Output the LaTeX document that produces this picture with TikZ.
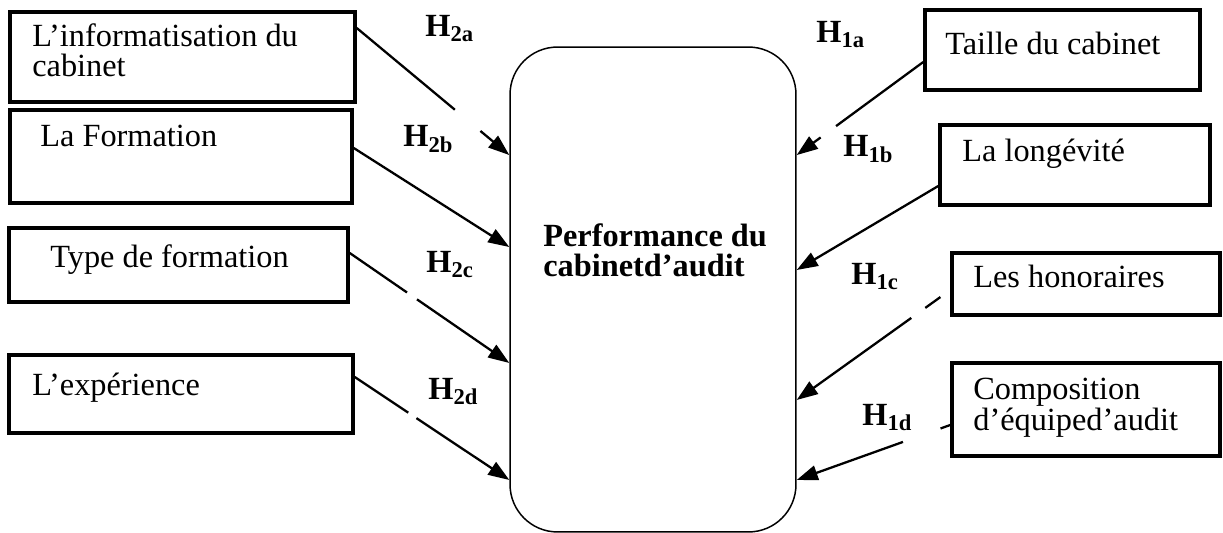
\documentclass[tikz,border=0pt]{standalone}
\usepackage{fontspec}
\setmainfont{Liberation Serif}
\usetikzlibrary{arrows.meta}
\tikzset{
  box/.style={draw,line width=2pt,inner sep=0pt},
  txt/.style={anchor=base west,inner sep=0pt,align=left,font=\fontsize{18.4}{17.6}\selectfont},
  hyp/.style={anchor=base west,inner sep=0pt,font=\fontsize{18.4}{17.6}\selectfont\bfseries},
  link/.style={line width=1.3pt,-{Triangle[length=12pt,width=8.5pt]}},
  broken/.style 2 args={dash pattern=on #1 off #2 on 400pt}
}
\begin{document}
\begin{tikzpicture}[x=0.02cm,y=-0.02cm]
  \useasboundingbox (0,0) rectangle (1223,533);
  % left boxes
  \node[box,minimum width=6.9cm,minimum height=1.8cm] (info) at (182.5,57) {};
  \node[box,minimum width=6.84cm,minimum height=1.86cm] (form) at (181,156.5) {};
  \node[box,minimum width=6.78cm,minimum height=1.48cm] (type) at (178.5,265) {};
  \node[box,minimum width=6.88cm,minimum height=1.56cm] (expe) at (181,394) {};
  % right boxes
  \node[box,minimum width=5.5cm,minimum height=1.6cm] (taille) at (1062.5,50) {};
  \node[box,minimum width=5.4cm,minimum height=1.6cm] (longe) at (1075,165) {};
  \node[box,minimum width=5.36cm,minimum height=1.24cm] (hono) at (1086,284) {};
  \node[box,minimum width=5.36cm,minimum height=1.86cm] (compo) at (1086,409.5) {};
  % centre
  \node[draw,line width=0.85pt,rounded corners=0.95cm,inner sep=0pt,minimum width=5.72cm,minimum height=9.7cm] (perf) at (653,289.5) {};
  \node[txt,font=\fontsize{18.4}{17.6}\selectfont\bfseries] (tperf) at (543,277) {Performance du\\cabinetd’audit};
  % texts (base = last line)
  \node[txt] (tinfo) at (32,77) {L’informatisation du\\cabinet};
  \node[txt] (tform) at (40,147) {La Formation};
  \node[txt] (ttype) at (50,268) {Type de formation};
  \node[txt] (texpe) at (32,395) {L’expérience};
  \node[txt] (ttaille) at (945,55) {Taille du cabinet};
  \node[txt] (tlonge) at (962,162) {La longévité};
  \node[txt] (thono) at (973,288) {Les honoraires};
  \node[txt] (tcompo) at (973,430) {Composition\\d’équiped’audit};
  % hypotheses
  \node[hyp] (h2a) at (425,37) {H\textsubscript{2a}};
  \node[hyp] (h2b) at (403,147) {H\textsubscript{2b}};
  \node[hyp] (h2c) at (426,273) {H\textsubscript{2c}};
  \node[hyp] (h2d) at (428,399) {H\textsubscript{2d}};
  \node[hyp] (h1a) at (816,43) {H\textsubscript{1a}};
  \node[hyp] (h1b) at (843,157) {H\textsubscript{1b}};
  \node[hyp] (h1c) at (851,285) {H\textsubscript{1c}};
  \node[hyp] (h1d) at (862,425) {H\textsubscript{1d}};
  % arrows
  \draw[link,broken={72.7pt}{18.9pt}] ([yshift=0.58cm]info.east) -- ([yshift=2.69cm]perf.west);
  \draw[link] ([yshift=0.17cm]form.east) -- ([yshift=0.85cm]perf.west);
  \draw[link,broken={39.6pt}{6.9pt}] ([yshift=0.24cm]type.east) -- ([yshift=-1.47cm]perf.west);
  \draw[link,broken={36.6pt}{5.6pt}] ([yshift=0.34cm]expe.east) -- ([yshift=-3.81cm]perf.west);
  \draw[link,broken={61.6pt}{10.9pt}] ([yshift=-0.24cm]taille.west) -- ([yshift=2.69cm]perf.east);
  \draw[link] ([yshift=-0.42cm]longe.west) -- ([yshift=0.39cm]perf.east);
  \draw[link,dash pattern=on 0pt off 6.9pt on 10.6pt off 9.8pt on 400pt] ([yshift=-0.12cm]hono.west) -- ([yshift=-2.21cm]perf.east);
  \draw[link,broken={5.9pt}{22.7pt}] ([yshift=-0.31cm]compo.west) -- ([yshift=-3.81cm]perf.east);
\end{tikzpicture}
\end{document}
